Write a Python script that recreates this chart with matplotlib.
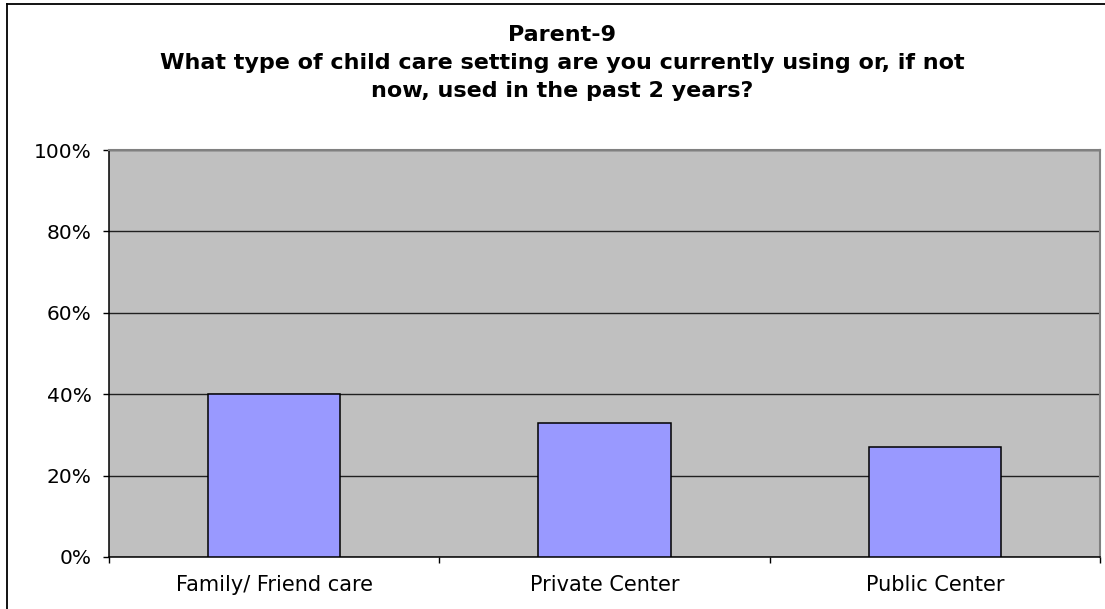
#!/usr/bin/env python3
# Excel-style bar chart: Parent-9 child care setting

import matplotlib.pyplot as plt
from matplotlib.lines import Line2D
from matplotlib.ticker import FuncFormatter, FixedLocator

categories = ['Family/ Friend care', 'Private Center', 'Public Center']
shares = [40, 33, 27]
yticks = [0, 20, 40, 60, 80, 100]

title_lines = [
    'Parent-9',
    'What type of child care setting are you currently using or, if not',
    'now, used in the past 2 years?',
]

plt.rcParams['font.family'] = ['DejaVu Sans']

W, H = 1105, 609
fig = plt.figure(figsize=(W / 100, H / 100), dpi=100)

# chart frame (only the left and top edges fall inside the picture)
fig.lines.append(Line2D([7 / W, 7 / W], [0, 1 - 4 / H], transform=fig.transFigure,
                        color='black', linewidth=1.3))
fig.lines.append(Line2D([7 / W, 1], [1 - 4 / H, 1 - 4 / H], transform=fig.transFigure,
                        color='black', linewidth=1.3))

ax = fig.add_axes([109 / W, 52 / H, 991 / W, 407 / H])
ax.set_facecolor('#C0C0C0')

x = range(len(categories))
ax.bar(x, shares, width=0.40, color='#9999FF', edgecolor='black', linewidth=1.1, zorder=3)

ax.set_xlim(-0.5, len(categories) - 0.5)
ax.set_ylim(0, 100)
ax.set_yticks(yticks)
ax.yaxis.set_major_formatter(FuncFormatter(lambda v, p: f'{v:.0f}%'))
ax.yaxis.grid(True, color='#202020', linewidth=1.0, zorder=1)
ax.set_axisbelow(True)

# category labels centred, tick marks at the category boundaries
ax.set_xticks(list(x))
ax.set_xticklabels(categories)
ax.tick_params(axis='x', which='major', length=0, pad=13, labelsize=15)
ax.xaxis.set_minor_locator(FixedLocator([-0.5, 0.5, 1.5, 2.5]))
ax.tick_params(axis='x', which='minor', length=4.5, width=1.0, color='black')
ax.tick_params(axis='y', length=4.5, width=1.0, color='black', labelsize=14.5, pad=8)

for side in ['left', 'bottom']:
    ax.spines[side].set_color('black')
    ax.spines[side].set_linewidth(1.1)
for side in ['top', 'right']:
    ax.spines[side].set_color('#808080')
    ax.spines[side].set_linewidth(1.5)

baselines = [41, 69, 97]
for line, yb in zip(title_lines, baselines):
    fig.text(562 / W, 1 - yb / H, line, ha='center', va='baseline',
             fontsize=16, fontweight='bold')

plt.savefig('out.png', dpi=100)
